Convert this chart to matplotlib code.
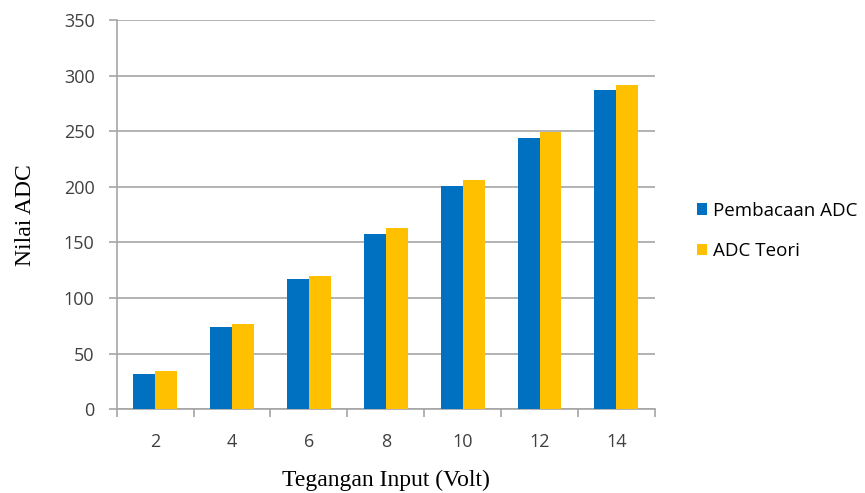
import matplotlib.pyplot as plt
import numpy as np

# Input voltage vs ADC reading
tegangan = [2, 4, 6, 8, 10, 12, 14]
pembacaan_adc = [32, 74, 117, 158, 201, 244, 287]
adc_teori = [34, 77, 120, 163, 206, 249, 292]

blue = '#0070C0'
gold = '#FFC000'
grid_gray = '#A6A6A6'
text_gray = '#404040'

fig = plt.figure(figsize=(8.65, 4.93), dpi=100)
ax = fig.add_axes([0.135, 0.170, 0.622, 0.789])

x = np.arange(len(tegangan))
w = 0.286
ax.bar(x - w / 2, pembacaan_adc, w, color=blue, label='Pembacaan ADC', zorder=3)
ax.bar(x + w / 2, adc_teori, w, color=gold, label='ADC Teori', zorder=3)

ax.set_xlim(-0.5, len(tegangan) - 0.5)
ax.set_ylim(0, 350)
ax.set_yticks(range(0, 351, 50))
ax.yaxis.grid(True, color=grid_gray, linewidth=1.2, zorder=0)

# category labels at centres, tick marks on the boundaries
ax.set_xticks(x)
ax.set_xticklabels([str(v) for v in tegangan])
ax.set_xticks(np.arange(-0.5, len(tegangan)), minor=True)
ax.tick_params(axis='x', which='major', length=0, pad=17)
ax.tick_params(axis='x', which='minor', length=6, width=1.2, color=grid_gray)
ax.tick_params(axis='y', length=6, width=1.2, color=grid_gray, pad=10)
for lbl in ax.get_xticklabels() + ax.get_yticklabels():
    lbl.set_fontfamily('Open Sans')
    lbl.set_fontsize(13)
    lbl.set_color(text_gray)

for side in ['top', 'right']:
    ax.spines[side].set_visible(False)
for side in ['left', 'bottom']:
    ax.spines[side].set_color(grid_gray)
    ax.spines[side].set_linewidth(1.2)

ax.set_xlabel('Tegangan Input (Volt)', family='Liberation Serif', fontsize=17, labelpad=14)
ax.set_ylabel('Nilai ADC', family='Liberation Serif', fontsize=17, labelpad=20)

leg = fig.legend(loc='center left', bbox_to_anchor=(697 / 865, 1 - 231 / 493),
                 frameon=False, borderaxespad=0, borderpad=0,
                 prop={'family': 'Open Sans', 'size': 13.5}, handlelength=0.55,
                 handleheight=0.55, handletextpad=0.3, labelspacing=1.2)
for t in leg.get_texts():
    t.set_color('black')

fig.savefig('out.png', dpi=100)
